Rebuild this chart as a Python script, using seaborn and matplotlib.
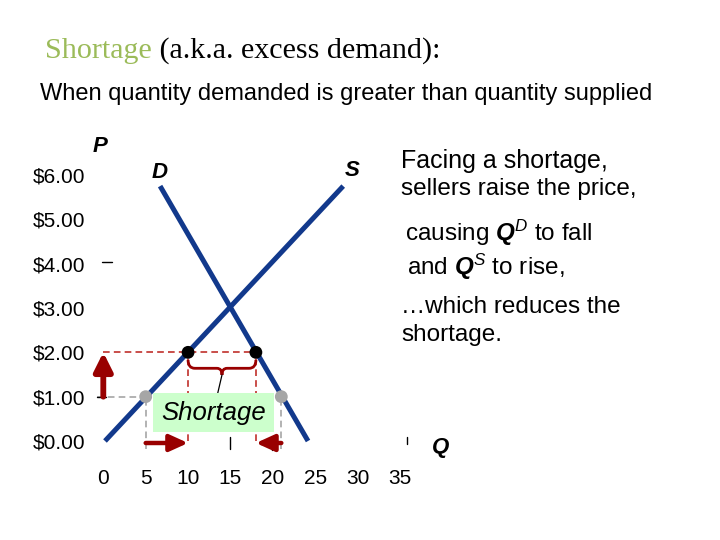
import matplotlib
matplotlib.use('Agg')
import matplotlib.pyplot as plt
from matplotlib.path import Path
from matplotlib.patches import PathPatch, Rectangle
from matplotlib.transforms import Affine2D
import seaborn as sns

# data
q_ticks = [0, 5, 10, 15, 20, 25, 30, 35]
p_ticks = [0, 1, 2, 3, 4, 5, 6]
p_labels = ['$0.00', '$1.00', '$2.00', '$3.00', '$4.00', '$5.00', '$6.00']

supply_q = [0.2, 28.3]
supply_p = [0.0, 5.75]
demand_q = [24.15, 6.7]
demand_p = [0.0, 5.75]

price_low = 1.0          # starting price
qs_low, qd_low = 5, 21
price_high = 2.0         # price after sellers raise it
qs_high, qd_high = 10, 18

BLUE = '#12398c'
DARKRED = '#990000'
DASHRED = '#c0302b'
GRAY = '#a6a6a6'

sns.set_style('white')
plt.rcParams['font.family'] = ['Liberation Sans', 'DejaVu Sans']
plt.rcParams['text.color'] = 'black'
plt.rcParams['xtick.color'] = 'black'
plt.rcParams['ytick.color'] = 'black'
plt.rcParams['mathtext.fontset'] = 'custom'
plt.rcParams['mathtext.rm'] = 'Liberation Sans'
plt.rcParams['mathtext.it'] = 'Liberation Sans:italic'
plt.rcParams['mathtext.bf'] = 'Liberation Sans:bold'
plt.rcParams['mathtext.bfit'] = 'Liberation Sans:italic:bold'

fig = plt.figure(figsize=(7.2, 5.4), dpi=100)
# top-left pixel coordinates for the slide text
pix = Affine2D().scale(1 / 720, -1 / 540).translate(0, 1) + fig.transFigure

ax = fig.add_axes([103.3 / 720, 99 / 540, 296.7 / 720, 266 / 540])
ax.set_xlim(0, 35)
ax.set_ylim(0, 6)
ax.set_facecolor('none')
sns.despine(ax=ax, left=True, bottom=True)

# supply & demand curves
sns.lineplot(x=supply_q, y=supply_p, ax=ax, color=BLUE, lw=3.6, sort=False,
             solid_capstyle='butt', clip_on=False, zorder=3)
sns.lineplot(x=demand_q, y=demand_p, ax=ax, color=BLUE, lw=3.6, sort=False,
             solid_capstyle='butt', clip_on=False, zorder=3)

# dashed guides
dash = (0, (4, 2.5))
ax.plot([-0.75, qs_low], [price_low, price_low], ls=dash, color=GRAY, lw=1.2, clip_on=False, zorder=2)
ax.plot([qs_low, qs_low], [-0.18, price_low], ls=dash, color=GRAY, lw=1.2, clip_on=False, zorder=2)
ax.plot([qd_low, qd_low], [-0.18, price_low], ls=dash, color=GRAY, lw=1.2, clip_on=False, zorder=2)
ax.plot([0, qd_high], [price_high, price_high], ls=dash, color=DASHRED, lw=1.2, clip_on=False, zorder=2)
ax.plot([qs_high, qs_high], [0, price_high], ls=dash, color=DASHRED, lw=1.2, clip_on=False, zorder=2)
ax.plot([qd_high, qd_high], [0, price_high], ls=dash, color=DASHRED, lw=1.2, clip_on=False, zorder=2)

# stray tick marks left on the slide
ax.plot([-0.8, 0.3], [price_low, price_low], color='black', lw=1, clip_on=False)
ax.plot([-0.2, 1.0], [4.04, 4.04], color='black', lw=1, clip_on=False)
for q, lo, hi in [(15, -0.18, 0.09), (19.95, -0.2, 0.09), (35.8, -0.07, 0.09)]:
    ax.plot([q, q], [lo, hi], color='black', lw=1, clip_on=False)

# points
sns.scatterplot(x=[qs_low, qd_low], y=[price_low, price_low], ax=ax, color=GRAY,
                s=85, edgecolor='none', zorder=5, clip_on=False)
sns.scatterplot(x=[qs_high, qd_high], y=[price_high, price_high], ax=ax, color='black',
                s=85, edgecolor='none', zorder=5, clip_on=False)

# arrows
ax.annotate('', xy=(0, price_high), xytext=(0, price_low),
            arrowprops=dict(arrowstyle='-|>,head_length=1.1,head_width=0.55', lw=4.2,
                            color=DARKRED, shrinkA=0, shrinkB=0, mutation_scale=10),
            annotation_clip=False, zorder=6)
for q_from, q_to in [(qs_low, qs_high), (qd_low, qd_high)]:
    ax.annotate('', xy=(q_to, -0.045), xytext=(q_from, -0.045),
                arrowprops=dict(arrowstyle='-|>,head_length=1.1,head_width=0.5', lw=3.2,
                                color=DARKRED, shrinkA=0, shrinkB=0, mutation_scale=10),
                annotation_clip=False, zorder=6)

# curly brace under the shortage gap
mid = (qs_high + qd_high) / 2
yt, yh, yb = 1.83, 1.64, 1.49
brace = Path(
    [(qs_high, yt), (qs_high, yh), (qs_high + 0.8, yh),
     (mid - 0.6, yh), (mid, yh), (mid, yb),
     (mid, yh), (mid + 0.6, yh),
     (qd_high - 0.8, yh), (qd_high, yh), (qd_high, yt)],
    [Path.MOVETO, Path.CURVE3, Path.CURVE3,
     Path.LINETO, Path.CURVE3, Path.CURVE3,
     Path.CURVE3, Path.CURVE3,
     Path.LINETO, Path.CURVE3, Path.CURVE3])
ax.add_patch(PathPatch(brace, fill=False, edgecolor=DARKRED, lw=2, zorder=4, clip_on=False))
ax.plot([mid, 13.5], [yb, 1.08], color='black', lw=0.9, zorder=4)

# shortage label box
ax.add_patch(Rectangle((5.9, 0.21), 14.2, 0.87, facecolor='#ccffcc', edgecolor='none', zorder=4))
ax.text(13.0, 0.64, 'Shortage', style='italic', fontsize=18.5, ha='center', va='center', zorder=5)

# ticks
ax.set_xticks(q_ticks)
ax.set_xticklabels([str(q) for q in q_ticks], fontsize=15)
ax.set_yticks(p_ticks)
ax.set_yticklabels(p_labels, fontsize=15)
ax.tick_params(axis='x', length=0, pad=20)
ax.tick_params(axis='y', length=0, pad=13)
ax.grid(False)

# axis / curve letters
for x, y, s in [(100, 147, 'P'), (160, 172, 'D'), (352, 170, 'S'), (441, 447, 'Q')]:
    fig.text(x, y, s, transform=pix, fontsize=16, weight='bold', style='italic',
             ha='center', va='center')

# title
t1 = fig.text(45, 58, 'Shortage', transform=pix, fontsize=21.6, family='Liberation Serif',
              color='#9bbb59', va='baseline')
ax.annotate(' (a.k.a. excess demand):', xy=(1, 0), xycoords=t1, fontsize=21.6,
            family='Liberation Serif', va='bottom', annotation_clip=False)
fig.text(40, 100, 'When quantity demanded is greater than quantity supplied', transform=pix,
         fontsize=17, va='baseline')

# right-hand explanation
fig.text(401, 168, 'Facing a shortage,', transform=pix, fontsize=18, va='baseline')
fig.text(401, 195, 'sellers raise the price,', transform=pix, fontsize=17.5, va='baseline')
fig.text(405, 241, r'causing $\mathbfit{Q}^{D}$ to fall', transform=pix, fontsize=17.5, va='baseline')
fig.text(407, 275, r'and $\mathbfit{Q}^{S}$ to rise,', transform=pix, fontsize=17.5, va='baseline')
fig.text(401, 313, '\u2026which reduces the', transform=pix, fontsize=17.5, va='baseline')
fig.text(401, 341, 'shortage.', transform=pix, fontsize=17.5, va='baseline')

fig.savefig('out.png', dpi=100, facecolor='white')
